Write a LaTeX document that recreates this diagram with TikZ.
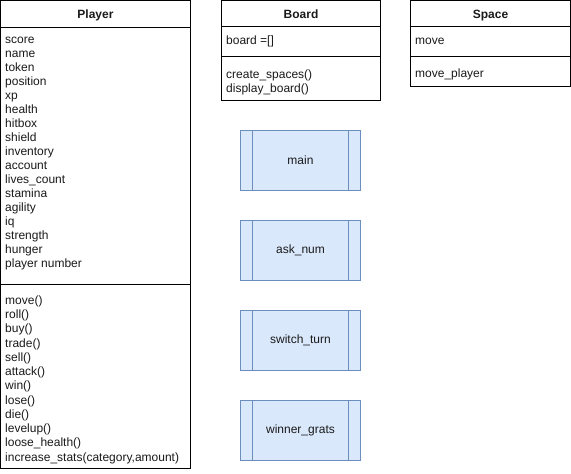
\documentclass[tikz,border=0pt]{standalone}
\usepackage{fontspec}
\setmainfont{Liberation Sans}
\definecolor{procfill}{HTML}{DAE8FC}
\definecolor{procline}{HTML}{6C8EBF}
\definecolor{ink}{HTML}{1A1A1A}
\begin{document}
\begin{tikzpicture}[x=1pt,y=-1pt,
  every node/.style={font=\fontsize{12}{14}\selectfont, text=ink},
  classbox/.style={draw=black, line width=1pt, fill=white, anchor=north west,
    inner sep=0pt, outer sep=0pt},
  divider/.style={draw=black, line width=1pt},
  classtitle/.style={font=\fontsize{12}{14}\selectfont\bfseries, anchor=base, inner sep=0pt},
  members/.style={align=left, anchor=north west, inner sep=0pt},
  procbox/.style={draw=procline, fill=procfill, line width=1pt,
    minimum width=120pt, minimum height=60pt, inner sep=0pt,
    path picture={
      \draw[procline, line width=1pt]
        ([xshift=12pt]path picture bounding box.north west) --
        ([xshift=12pt]path picture bounding box.south west)
        ([xshift=-12pt]path picture bounding box.north east) --
        ([xshift=-12pt]path picture bounding box.south east);
    }},
]
\useasboundingbox (0,0) rectangle (571,474);

% ---------- Player ----------
\node[classbox, minimum width=190pt, minimum height=468pt] (player) at (0.5,0.5) {};
\draw[divider] (0.5,27.5) -- (190.5,27.5);
\draw[divider] (0.5,284.5) -- (190.5,284.5);
\node[classtitle] (playertitle) at (95.5,18) {Player};
\node[members] (playerattrs) at (5,33.8) {\strut score\\ name\\ token\\ position\\ xp\\ health\\ hitbox\\ shield\\ inventory\\ account\\ lives\_count\\ stamina\\ agility\\ iq\\ strength\\ hunger\\ player number};
\node[members, font=\fontsize{12}{14.25}\selectfont] (playerops) at (5,294.2) {\strut move()\\ roll()\\ buy()\\ trade()\\ sell()\\ attack()\\ win()\\ lose()\\ die()\\ levelup()\\ loose\_health()\\ increase\_stats(category,amount)};

% ---------- Board ----------
\node[classbox, minimum width=159pt, minimum height=100pt] (board) at (221.5,0.5) {};
\draw[divider] (221.5,26.5) -- (380.5,26.5);
\draw[divider] (221.5,56.5) -- (380.5,56.5);
\node[classtitle] (boardtitle) at (301,18) {Board};
\node[members] (boardattrs) at (226,34.2) {\strut board =[]};
\node[members] (boardops) at (226,68.2) {\strut create\_spaces()\\ display\_board()};

% ---------- Space ----------
\node[classbox, minimum width=160pt, minimum height=86pt] (space) at (410.5,0.5) {};
\draw[divider] (410.5,26.5) -- (570.5,26.5);
\draw[divider] (410.5,56.5) -- (570.5,56.5);
\node[classtitle] (spacetitle) at (490.5,18) {Space};
\node[members] (spaceattrs) at (415,34.2) {\strut move};
\node[members] (spaceops) at (415,67.2) {\strut move\_player};

% ---------- Subprocesses ----------
\node[procbox] (main) at (300.5,160) {main};
\node[procbox] (asknum) at (300.5,250.5) {ask\_num};
\node[procbox] (switchturn) at (300.5,340.5) {switch\_turn};
\node[procbox] (winnergrats) at (300.5,430.5) {winner\_grats};
\end{tikzpicture}
\end{document}
